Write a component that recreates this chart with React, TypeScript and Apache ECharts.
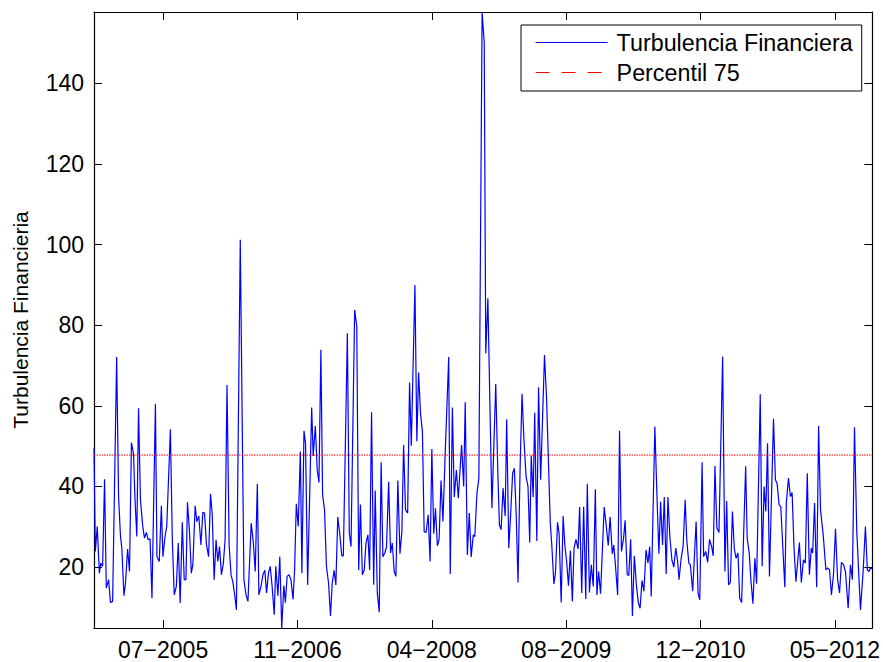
import React, { useEffect, useRef } from "react";
import * as echarts from "echarts";

const weekIndex = [
  0, 0.7, 1.7, 2.8, 3.5, 4.5, 5.5, 6.4, 7.6, 8.6,
  9.7, 11.8, 12.8, 13.8, 14.5, 15.6, 16.4, 17.5, 18.5, 19.5,
  20.6, 21.3, 22.3, 23.2, 24.2, 25.4, 26.3, 27.3, 28.2, 29.2,
  30.2, 32, 32.8, 34, 35.1, 35.9, 37, 37.9, 39.8, 40.8,
  41.8, 42.9, 43.9, 44.9, 46, 47, 47.9, 48.7, 49.8, 50.7,
  51.5, 52.7, 53.6, 54.6, 55.7, 56.7, 57.6, 58.6, 59.7, 60.7,
  61.6, 62.6, 63.6, 64.5, 65.4, 66.4, 67.4, 68.3, 69.3, 70.4,
  71.4, 72.3, 73.3, 74.2, 76.2, 78.1, 79.2, 80.2, 81.9, 83,
  84, 85.1, 85.9, 87, 88, 89, 89.9, 90.9, 91.8, 92.8,
  93.9, 94.7, 95.8, 96.8, 97.8, 98.9, 99.7, 100.6, 101.6, 102.6,
  103.7, 104.5, 105.4, 106.4, 107.5, 108.3, 109.4, 110.2, 111.3, 113.4,
  114.2, 115.3, 116.3, 117.2, 118.2, 119.1, 120.1, 121.1, 122.2, 123.2,
  124.1, 125.1, 126, 127, 128, 129.1, 129.9, 132, 133, 133.9,
  135.8, 136.9, 137.9, 138.8, 139.8, 140.8, 141.7, 142.7, 143.6, 144.6,
  145.7, 146.5, 147.6, 148.6, 149.6, 150.5, 151.5, 152.4, 153.5, 154.5,
  155.4, 156.4, 157.3, 158.3, 159.4, 160.4, 161.3, 162.3, 163.4, 164.4,
  165.3, 167.2, 168.2, 169.1, 170.1, 171.1, 172, 173, 174.1, 175.1,
  176, 177, 177.9, 178.9, 179.8, 180.8, 181.8, 182.9, 184.8, 185.6,
  186.7, 187.7, 188.8, 189.8, 191.5, 192.6, 193.4, 194.5, 195.5, 196.5,
  197.6, 198.4, 199.5, 200.5, 202.2, 203.3, 204.1, 205.2, 207.3, 209.3,
  210.4, 211.2, 212.1, 213.1, 214.2, 215, 216.1, 217.1, 218.1, 219,
  220, 220.9, 222, 223, 224, 225.1, 226.1, 227, 227.8, 228.8,
  229.6, 230.7, 231.6, 232.7, 234.7, 235.8, 236.6, 237.7, 238.5, 239.6,
  240.4, 241.5, 242.3, 243.4, 244.4, 245.3, 246.3, 247.2, 248.2, 249.2,
  250.1, 251.1, 252.2, 253, 254.1, 255.1, 256.2, 257, 258.1, 259.1,
  260.1, 261.2, 262, 262.9, 263.9, 265.8, 266.9, 267.9, 268.9, 270,
  270.8, 271.7, 272.8, 273.8, 274.8, 275.9, 276.7, 277.8, 278.6, 279.6,
  280.5, 281.5, 282.6, 283.6, 284.5, 285.5, 286.5, 287.6, 288.6, 289.5,
  290.3, 292.2, 293.3, 294.3, 295.2, 296.2, 297.1, 298.1, 299, 300,
  301.1, 302.1, 303.1, 304, 304.8, 305.9, 306.9, 308, 308.8, 309.9,
  310.7, 311.9, 313.7, 314.7, 315.6, 316.8, 317.6, 318.7, 319.7, 320.7,
  321.8, 322.6, 323.5, 324.5, 325.6, 327.5, 328.7, 329.6, 330.6, 331.5,
  332.6, 333.6, 334.5, 335.5, 336.4, 337.4, 339.5, 340.3, 341.4, 342.2,
  343.3, 344.3, 345.2, 347.1, 348.1, 349.1, 350, 350.9, 351.9, 354,
  355, 355.9, 356.9, 357.8, 359.9, 360.7, 361.8, 362.8, 363.7, 364.7,
  365.7, 367.5, 368.5, 369.6, 370.6, 371.6, 372.7, 373.7, 374.4, 375.4,
  376.5, 377.5, 378.5, 379.9, 381.3, 382.2, 383.2, 384.2, 385.3, 386.3,
  387.4, 388.4, 389.4, 390.5, 391.5, 392.9, 394.1, 395.1, 396.2, 397.4,
  398.2, 399.3, 400.7, 401.9, 402.9, 403.8, 404.5, 405.5,
];

// Turbulencia Financiera values
const turbulence = [
  49.5, 23.9, 30.1, 18.5, 21, 20.2, 41.8, 14.8, 16.9, 11.2,
  11.5, 72.1, 37.5, 27.6, 24.7, 12.9, 16, 24.5, 18.9, 50.9,
  48.1, 37.5, 27.6, 59.4, 36.7, 30.1, 27.2, 28.6, 26.8, 27,
  12.3, 60.5, 22.6, 21.4, 35.2, 22.6, 27.6, 30.1, 54.2, 26.8,
  13.1, 15.2, 26, 11.1, 31.1, 16.9, 16.9, 36.1, 28.4, 18.5,
  20.6, 35.2, 31.3, 32.7, 25.5, 33.6, 33.4, 25.5, 22.6, 38.2,
  33, 16.9, 26.8, 21.4, 25.1, 18.1, 21, 26.8, 65.2, 25.5,
  18.1, 16.4, 13.1, 9.4, 101.2, 16.9, 13.1, 11.5, 30.9, 26.1,
  18.9, 40.7, 13.1, 15.2, 18.1, 19.2, 13.6, 18.5, 20.2, 15.2,
  8.2, 20.2, 12.9, 22.6, 4.9, 15.4, 11.2, 17.7, 18.1, 16.9,
  12, 19.3, 35.7, 30.1, 48.7, 18.5, 53.8, 50.7, 15.6, 59.6,
  47.6, 55, 44.1, 41, 73.9, 37.9, 34.2, 20.2, 16, 7.9,
  16, 19.2, 15.6, 32.4, 28.4, 22.8, 22.8, 78, 28.4, 25.1,
  83.8, 79.7, 19.2, 35.5, 18.1, 19.3, 26, 28, 19.3, 58.4,
  15.6, 39, 13.6, 8.8, 46, 22.6, 23.5, 25, 41.2, 23.5,
  26, 18.9, 17.7, 41.5, 23.3, 28.8, 50.3, 34.2, 33.4, 65.8,
  50.1, 90, 51.2, 68.3, 58.2, 53.6, 28.8, 28.6, 33, 21.4,
  49.3, 28.3, 34.6, 25.3, 26.9, 41.5, 31.3, 47.4, 72.1, 18.3,
  59.6, 37.4, 44.1, 37.1, 50.3, 40, 60.9, 23, 33.4, 22.5,
  28, 27.6, 38.3, 42, 157.7, 150, 73, 86.7, 34.6, 65.4,
  43.3, 30.5, 29.3, 39.6, 32.7, 56.7, 24.7, 33.4, 43.3, 44.5,
  32.5, 16.2, 44.9, 63, 51.6, 42.5, 40, 26.1, 47.6, 37.4,
  58.3, 26.5, 64.6, 41.7, 72.6, 61.5, 48.7, 31.1, 25.5, 15.8,
  18.5, 31.1, 28.4, 11.2, 32.7, 25.5, 21, 15.4, 24.1, 11.5,
  24.7, 26.9, 24.5, 34.9, 13.6, 35, 12.1, 40.7, 13.7, 20.6,
  15.2, 39.3, 13.1, 18.9, 13.4, 34.9, 30.1, 25.4, 32.4, 23.3,
  25.5, 20.2, 13.1, 53.8, 23.9, 27.2, 31.6, 18.1, 17.9, 26.9,
  7.9, 22.8, 15.4, 11.1, 9.8, 16.7, 14, 24.3, 21, 25.1,
  12.7, 54.9, 37.5, 23.3, 36.2, 25.5, 37.4, 18.3, 37.4, 27.6,
  21.7, 20, 24.7, 21.7, 16.9, 22.2, 25.1, 36.7, 26.8, 21,
  20.6, 14, 31.3, 13.6, 11.9, 46, 22.6, 23.9, 21.2, 26.9,
  25, 22.8, 45.1, 29.7, 28.6, 72.2, 18.9, 36.4, 15.6, 16.2,
  33.8, 24.5, 22.2, 23.5, 12.3, 11.2, 45, 27.2, 23.3, 16.9,
  10.9, 22.2, 15.9, 62.9, 20.2, 40, 33.8, 50.7, 17.7, 56.8,
  41.7, 40.7, 35.5, 35, 15, 36, 42.1, 37.5, 38.5, 24.7,
  16.4, 26.1, 16.2, 21.8, 21, 43.3, 18.1, 24.7, 23.5, 35.9,
  15, 55, 34.2, 28, 19.3, 19.8, 19.3, 13.1, 18.5, 29.5,
  16.9, 13.6, 21.2, 20.6, 18.9, 9.8, 20.6, 16.9, 54.7, 28.8,
  20.6, 9.4, 18.9, 30.1, 19.3, 18.9, 19.8, 19.6,
];

const percentile75 = 47.8;
const tickWeeks = [36, 106, 176, 246, 316, 386];
const tickLabels = ["07−2005", "11−2006", "04−2008", "08−2009", "12−2010", "05−2012"];
const yTicks = [20, 40, 60, 80, 100, 120, 140];
const xMin = 0;
const xMax = 405.5;
const yMin = 4.9;
const yMax = 157.7;

export default function App() {
  const ref = useRef<HTMLDivElement>(null);

  useEffect(() => {
    if (!ref.current) return;
    const chart = echarts.init(ref.current, null, { renderer: "svg" });
    const font = "'Liberation Sans', Arial, Helvetica, sans-serif";
    const n = Math.min(weekIndex.length, turbulence.length);
    const lineData: number[][] = [];
    for (let i = 0; i < n; i++) lineData.push([weekIndex[i], turbulence[i]]);

    const axisLine = { show: true, onZero: false, lineStyle: { color: "#000", width: 1.2 } };
    const xTick = { show: true, inside: true, length: 8, customValues: tickWeeks, lineStyle: { color: "#000", width: 1 } };
    const yTick = { show: true, inside: true, length: 8, customValues: yTicks, lineStyle: { color: "#000", width: 1 } };
    const hiddenSymbol = { color: "rgba(0,0,0,0)", borderWidth: 0, borderColor: "rgba(0,0,0,0)", opacity: 0 };

    chart.setOption({
      animation: false,
      backgroundColor: "#fff",
      grid: { left: 94, right: 7, top: 12, bottom: 34 },
      legend: {
        show: true,
        orient: "vertical",
        left: 521,
        top: 25,
        padding: [6, 9, 7, 14],
        itemGap: 7,
        itemWidth: 72,
        itemHeight: 14,
        borderColor: "#000",
        borderWidth: 1,
        backgroundColor: "#fff",
        textStyle: { fontSize: 23.3, color: "#000", fontFamily: font, padding: [0, 0, 0, 4] },
        data: [
          {
            name: "Turbulencia Financiera",
            itemStyle: hiddenSymbol,
            lineStyle: { color: "#0000ff", width: 1.2, type: "solid" },
          },
          {
            name: "Percentil 75",
            itemStyle: hiddenSymbol,
            lineStyle: { color: "#ff0000", width: 1.2, type: [14, 12] },
          },
        ],
      },
      xAxis: [
        {
          type: "value",
          position: "bottom",
          min: xMin,
          max: xMax,
          axisLine,
          axisTick: xTick,
          axisLabel: {
            show: true,
            customValues: tickWeeks,
            formatter: (v: number) => {
              const k = tickWeeks.indexOf(v);
              return k >= 0 ? tickLabels[k] : "";
            },
            fontSize: 23,
            color: "#000",
            fontFamily: font,
            margin: 10,
          },
          splitLine: { show: false },
        },
        {
          type: "value",
          position: "top",
          min: xMin,
          max: xMax,
          axisLine,
          axisTick: xTick,
          axisLabel: { show: false },
          splitLine: { show: false },
        },
      ],
      yAxis: [
        {
          type: "value",
          position: "left",
          min: yMin,
          max: yMax,
          name: "Turbulencia Financieria",
          nameLocation: "middle",
          nameRotate: 90,
          nameGap: 63,
          nameTextStyle: { fontSize: 21, color: "#000", fontFamily: font },
          axisLine,
          axisTick: yTick,
          axisLabel: {
            show: true,
            customValues: yTicks,
            fontSize: 23,
            color: "#000",
            fontFamily: font,
            margin: 10,
          },
          splitLine: { show: false },
        },
        {
          type: "value",
          position: "right",
          min: yMin,
          max: yMax,
          axisLine,
          axisTick: yTick,
          axisLabel: { show: false },
          splitLine: { show: false },
        },
      ],
      series: [
        {
          name: "Turbulencia Financiera",
          type: "line",
          xAxisIndex: 0,
          yAxisIndex: 0,
          data: lineData,
          symbol: "none",
          clip: true,
          lineStyle: { color: "#0000ff", width: 1.2 },
          itemStyle: { color: "#0000ff" },
        },
        {
          name: "Percentil 75",
          type: "line",
          xAxisIndex: 0,
          yAxisIndex: 0,
          data: [
            [xMin, percentile75],
            [xMax, percentile75],
          ],
          symbol: "none",
          lineStyle: { color: "#ff0000", width: 1, type: [1.5, 1] },
          itemStyle: { color: "#ff0000" },
        },
      ],
    });

    return () => chart.dispose();
  }, []);

  return (
    <div
      ref={ref}
      style={{ position: "fixed", left: 0, top: 0, width: 883, height: 662, background: "#fff" }}
    />
  );
}
